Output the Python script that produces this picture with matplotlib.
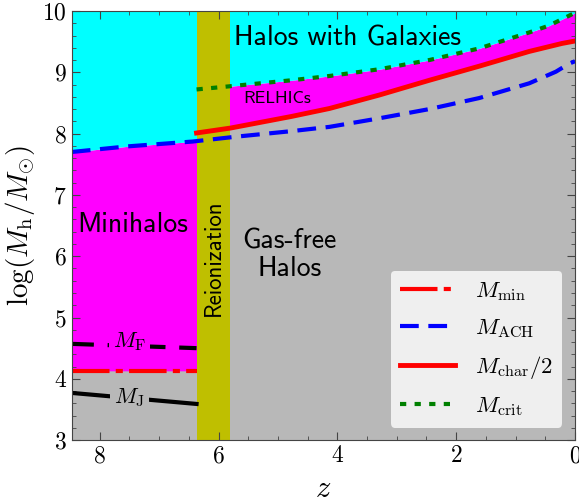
import numpy as np
import matplotlib
matplotlib.use("Agg")
import matplotlib.pyplot as plt
from matplotlib.ticker import MultipleLocator

plt.rcParams['font.family'] = 'serif'
plt.rcParams['font.serif'] = ['cmr10', 'DejaVu Serif']
plt.rcParams['mathtext.fontset'] = 'cm'
plt.rcParams['axes.formatter.use_mathtext'] = True

# redshift range and reionization window
z_max, z_min = 8.47, 0.0
z_reion = (6.37, 5.8)

# pre-reionization curves
z_pre = [8.47, 6.37]
M_min = [4.13, 4.13]
M_F = [4.57, 4.50]
M_J = [3.77, 3.59]

# atomic cooling halo mass
z_ach = [8.47, 7.55, 6.44, 5.7, 4.77, 4.13, 3.29, 2.45, 1.61, 0.77, 0.32, 0.10, 0.0]
M_ach = [7.70, 7.79, 7.87, 7.95, 8.04, 8.11, 8.25, 8.40, 8.58, 8.82, 9.01, 9.14, 9.18]

# characteristic mass (halved) and critical mass after reionization
z_char = [6.37, 5.8, 4.77, 4.13, 3.29, 2.45, 1.61, 0.77, 0.22, 0.0]
M_char2 = [8.01, 8.09, 8.28, 8.41, 8.63, 8.87, 9.10, 9.34, 9.47, 9.51]
z_crit = [6.37, 5.83, 4.77, 4.13, 3.29, 2.45, 1.61, 0.77, 0.44, 0.0]
M_crit = [8.72, 8.77, 8.87, 8.94, 9.05, 9.20, 9.39, 9.65, 9.76, 9.97]

c_cyan = '#00ffff'
c_mag = '#ff00ff'
c_gray = '#b8b8b8'
c_olive = '#bfbf00'

fig = plt.figure(figsize=(5.79, 4.99), dpi=100)
ax = fig.add_axes([0.124, 0.118, 0.869, 0.860])

# regions before reionization (extended under the band)
zl = np.linspace(z_max, z_reion[0] - 0.1, 60)
ach_l = np.interp(zl, z_ach[::-1], M_ach[::-1])
ax.fill_between(zl, 3, M_min[0], color=c_gray, lw=0)
ax.fill_between(zl, M_min[0], ach_l, color=c_mag, lw=0)
ax.fill_between(zl, ach_l, 10, color=c_cyan, lw=0)

# regions after reionization
zr = np.linspace(z_reion[1] + 0.1, z_min, 200)
char_r = np.interp(zr, z_char[::-1], M_char2[::-1])
crit_r = np.interp(zr, z_crit[::-1], M_crit[::-1])
ax.fill_between(zr, 3, char_r, color=c_gray, lw=0)
ax.fill_between(zr, char_r, crit_r, color=c_mag, lw=0)
ax.fill_between(zr, crit_r, 10, color=c_cyan, lw=0)

ax.axvspan(z_reion[1], z_reion[0], color=c_olive, lw=0)

# mass thresholds
ax.plot(z_pre, M_min, color='red', lw=3, dashes=(9, 1.5, 1.7, 1.5),
        label=r'$M_{\rm min}$')
ax.plot(z_ach, M_ach, color='blue', lw=3, dashes=(4.5, 2.3),
        label=r'$M_{\rm ACH}$')
ax.plot(z_char, M_char2, color='red', lw=3.5, label=r'$M_{\rm char}/2$')
ax.plot(z_crit, M_crit, color='green', lw=3, dashes=(1.5, 2),
        label=r'$M_{\rm crit}$')
ax.plot(z_pre, M_F, color='black', lw=3, dashes=(5.3, 3.3))
ax.plot(z_pre, M_J, color='black', lw=3)

ax.text(7.5, 4.6, r'$M_{\rm F}$', fontsize=16, ha='center', va='center',
        bbox=dict(facecolor=c_mag, edgecolor='none', pad=3))
ax.text(7.5, 3.7, r'$M_{\rm J}$', fontsize=16, ha='center', va='center',
        bbox=dict(facecolor=c_gray, edgecolor='none', pad=3))

sans = ['cmss10', 'DejaVu Sans']
ax.text(3.83, 9.56, 'Halos with Galaxies', fontsize=20, family=sans,
        ha='center', va='center')
ax.text(5.02, 8.58, 'RELHICs', fontsize=13, family=sans, ha='center', va='center')
ax.text(7.45, 6.51, 'Minihalos', fontsize=20, family=sans, ha='center', va='center')
ax.text(4.81, 6.02, 'Gas-free\nHalos', fontsize=20, family=sans,
        ha='center', va='center', linespacing=1.15)
ax.text(6.08, 5.97, 'Reionization', fontsize=16.5, family=sans, rotation=90,
        ha='center', va='center')

ax.set_xlim(z_max, z_min)
ax.set_ylim(3, 10)
ax.xaxis.set_major_locator(MultipleLocator(2))
ax.xaxis.set_minor_locator(MultipleLocator(0.5))
ax.yaxis.set_major_locator(MultipleLocator(1))
ax.yaxis.set_minor_locator(MultipleLocator(0.2))
ax.tick_params(which='both', direction='in', top=True, right=True,
               labelsize=17, color='#444444')
ax.tick_params(which='major', length=6)
ax.tick_params(which='minor', length=3)
for s in ax.spines.values():
    s.set_color('#444444')

ax.set_xlabel(r'$z$', fontsize=22, labelpad=6)
ax.set_ylabel(r'$\log(M_{\rm h}/M_{\odot})$', fontsize=21, labelpad=4)

leg = ax.legend(loc='lower right', fontsize=16.5, frameon=True, fancybox=True,
                facecolor='#efefef', edgecolor='none', framealpha=1,
                handlelength=2.4, handletextpad=0.9, labelspacing=0.62,
                borderaxespad=0.55)

fig.savefig('out.png', dpi=100)
